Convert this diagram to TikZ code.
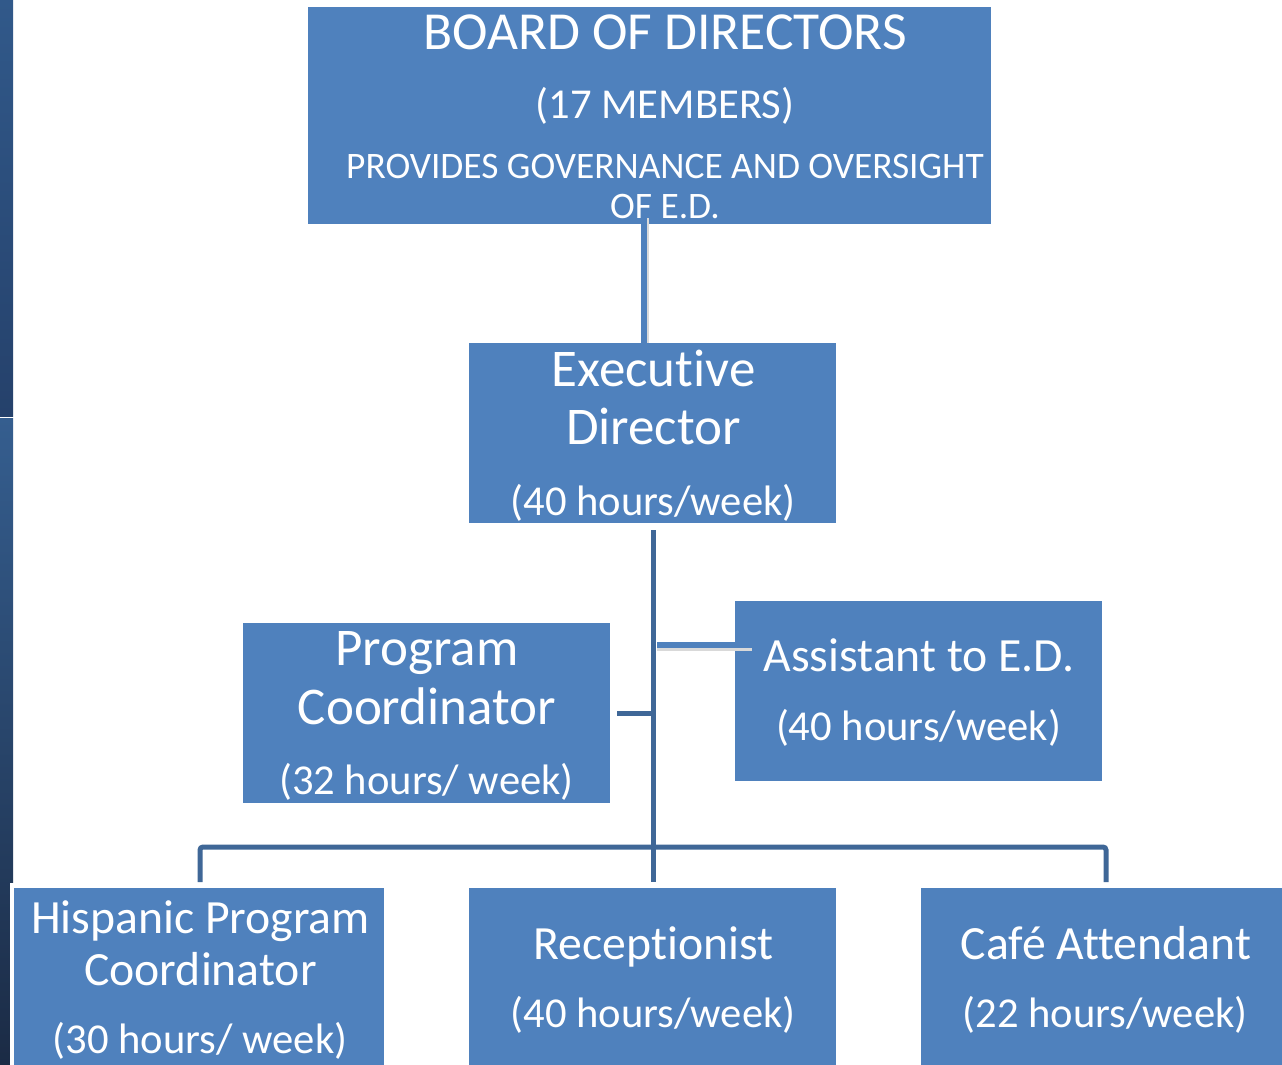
\documentclass[tikz,border=0pt]{standalone}
\usepackage{fontspec}
\setmainfont{Carlito}[Ligatures={NoCommon}]
\definecolor{boxblue}{HTML}{4F81BD}
\definecolor{linedark}{HTML}{3F6797}
\definecolor{stripA}{HTML}{31598A}
\definecolor{stripB}{HTML}{25416B}
\definecolor{stripC}{HTML}{355E8F}
\definecolor{stripD}{HTML}{1B2B45}
\tikzset{
  orgbox/.style={fill=boxblue, draw=none, inner sep=0pt, anchor=north west},
  txt/.style={text=white, inner sep=0pt, anchor=base},
  title/.style={font=\fontsize{53.5}{53.5}\selectfont},
  big/.style={font=\fontsize{53}{53}\selectfont},
  mid/.style={font=\fontsize{47.7}{47.7}\selectfont},
  hrs/.style={font=\fontsize{42.6}{42.6}\selectfont},
  small/.style={font=\fontsize{37.4}{37.4}\selectfont},
  trunk/.style={draw=linedark, line width=5pt},
  lightline/.style={draw=boxblue, line width=5.5pt},
  shadowline/.style={draw=black!15, line width=5pt},
}
\begin{document}
\begin{tikzpicture}[x=1pt,y=-1pt]
\useasboundingbox[fill=white] (0,0) rectangle (1282,1065);
% left strip
\shade[top color=stripA, bottom color=stripB] (0,0) rectangle (13,416);
\shade[top color=stripC, bottom color=stripD] (0,418) rectangle (13,1065);
\fill[white] (10,883) rectangle (14,1065);

% boxes
\node[orgbox, minimum width=683pt, minimum height=217pt] (board) at (308,7) {};
\node[orgbox, minimum width=367pt, minimum height=180pt] (ed) at (469,343) {};
\node[orgbox, minimum width=367pt, minimum height=180pt] (pc) at (243,623) {};
\node[orgbox, minimum width=367pt, minimum height=180pt] (asst) at (735,601) {};
\node[orgbox, minimum width=370pt, minimum height=180pt] (hisp) at (14,888) {};
\node[orgbox, minimum width=367pt, minimum height=180pt] (recep) at (469,888) {};
\node[orgbox, minimum width=361pt, minimum height=180pt] (cafe) at (921,888) {};

% connectors
\coordinate (topstart) at (644,216);
\draw[shadowline] ([xshift=2pt,yshift=-2pt]topstart) -- ([xshift=2pt]topstart |- ed.north);
\draw[lightline] (topstart) -- (topstart |- ed.north);

\coordinate (trunktop) at (653,530);
\coordinate (trunkbot) at (653,882);
\draw[trunk] (trunktop) -- (trunkbot);

\coordinate (pcjoin) at (651,713);
\draw[trunk] (pcjoin) -- ([xshift=7pt]pcjoin -| pc.east);

\coordinate (asjoin) at (657,645);
\draw[shadowline] ([yshift=-3pt]asjoin) -- ([xshift=17pt,yshift=-3pt]asjoin -| asst.west);
\draw[lightline] (asjoin) -- ([xshift=17pt]asjoin -| asst.west);

\coordinate (hispdrop) at (200,882);
\coordinate (cafedrop) at (1106,882);
\draw[trunk, rounded corners=3pt] (hispdrop) -- (200,847) -- (1106,847) -- (cafedrop);

% texts
\node[txt, title] (t1) at (665,49) {BOARD OF DIRECTORS};
\node[txt, hrs] (t2) at (665,118) {(17 MEMBERS)};
\node[txt, small] (t3) at (665,178) {PROVIDES GOVERNANCE AND OVERSIGHT};
\node[txt, small] (t4) at (665,218) {OF E.D.};

\node[txt, big] (e1) at (653.5,386) {Executive};
\node[txt, big] (e2) at (653.5,444) {Director};
\node[txt, hrs] (e3) at (653,515) {(40 hours/week)};

\node[txt, big] (p1) at (427,665) {Program};
\node[txt, big] (p2) at (427,724) {Coordinator};
\node[txt, hrs] (p3) at (426.5,794) {(32 hours/ week)};

\node[txt, mid] (a1) at (919,671) {Assistant to E.D.};
\node[txt, hrs] (a2) at (918.5,740) {(40 hours/week)};

\node[txt, mid] (h1) at (200.5,933) {Hispanic Program};
\node[txt, mid] (h2) at (200.5,985) {Coordinator};
\node[txt, hrs] (h3) at (200,1053) {(30 hours/ week)};

\node[txt, mid] (r1) at (653.5,959) {Receptionist};
\node[txt, hrs] (r2) at (653,1027) {(40 hours/week)};

\node[txt, mid] (c1) at (1106,959) {Café Attendant};
\node[txt, hrs] (c2) at (1105,1027) {(22 hours/week)};
\end{tikzpicture}
\end{document}
